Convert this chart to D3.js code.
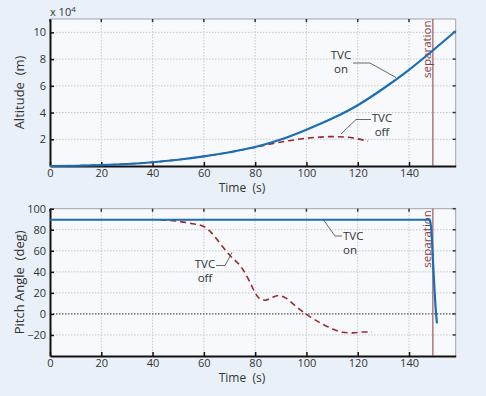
<!DOCTYPE html>
<html>
<head>
<meta charset="utf-8">
<script src="https://cdn.jsdelivr.net/npm/d3@7"></script>
<style>
  body { margin: 0; background: #eaf0f8; }
  text { font-family: "Open Sans", Lato, sans-serif; fill: #333; }
</style>
</head>
<body>
<script>
// altitude (x 10^4 m) vs time (s)
var altTimeOn = [0, 10, 20, 30, 40, 50, 60, 70, 80, 90, 100, 110, 120, 130, 140, 149.3, 158.2];
var altOn     = [0, 0.02, 0.07, 0.15, 0.28, 0.47, 0.72, 1.03, 1.42, 1.98, 2.72, 3.55, 4.55, 5.8, 7.2, 8.65, 10.1];
var altTimeOff = [0, 10, 20, 30, 40, 50, 60, 70, 80, 87, 95, 103, 110, 116, 120, 124];
var altOff     = [0, 0.02, 0.07, 0.15, 0.28, 0.47, 0.72, 1.03, 1.4, 1.68, 1.95, 2.13, 2.2, 2.15, 2.03, 1.86];

// pitch angle (deg) vs time (s)
var pitchTimeOn = [0, 147.6, 148.2, 148.8, 149.3, 149.8, 150.3, 150.9];
var pitchOn     = [89.5, 89.5, 88, 76, 52, 29, 8, -9];
var pitchTimeOff = [43, 50, 55, 60, 63, 66, 70, 75, 78, 80, 82, 84, 86, 89, 92, 96, 100, 105, 110, 114, 118, 122, 125.5];
var pitchOff     = [89.5, 88, 86, 83, 77, 68, 56, 43, 30, 20, 14, 13, 15, 17.5, 15, 7, -0.5, -8, -14, -17.5, -18, -17.2, -17.2];

var xTicks = [0, 20, 40, 60, 80, 100, 120, 140];
var altTicks = [2, 4, 6, 8, 10];
var pitchTicks = [-20, 0, 20, 40, 60, 80, 100];
var separationTime = 149.3;

var width = 486, height = 396;
var blue = "#1b6db5", red = "#9a2a2a", sepColor = "#8e3b3b";

var svg = d3.select("body").append("svg")
  .attr("width", width)
  .attr("height", height);

var x = d3.scaleLinear().domain([0, 158.2]).range([50, 455.7]);

function panel(y0, y1, yDomain, yTicks, ylabel, zeroLine) {
  var y = d3.scaleLinear().domain(yDomain).range([y1, y0]);
  var g = svg.append("g");

  g.append("rect")
    .attr("x", x.range()[0]).attr("y", y0)
    .attr("width", x.range()[1] - x.range()[0]).attr("height", y1 - y0)
    .attr("fill", "#f7f9fd");

  // grid
  g.selectAll(".gx").data(xTicks.filter(function(d) { return d > 0; })).enter().append("line")
    .attr("x1", d => x(d)).attr("x2", d => x(d))
    .attr("y1", y0).attr("y2", y1)
    .attr("stroke", "#c4c8cc").attr("stroke-width", 1).attr("stroke-dasharray", "1.5,1.5");
  g.selectAll(".gy").data(yTicks.filter(function(d) { return y(d) > y0 + 1; })).enter().append("line")
    .attr("x1", x.range()[0]).attr("x2", x.range()[1])
    .attr("y1", d => y(d)).attr("y2", d => y(d))
    .attr("stroke", d => (zeroLine && d === 0) ? "#555" : "#c4c8cc")
    .attr("stroke-width", d => (zeroLine && d === 0) ? 1.3 : 1)
    .attr("stroke-dasharray", "1.5,1.5");

  // top/right frame
  g.append("path")
    .attr("d", "M" + x.range()[0] + "," + y0 + "H" + x.range()[1] + "V" + y1)
    .attr("fill", "none").attr("stroke", "#a0a4a8").attr("stroke-width", 1);

  // inner ticks top & right
  g.selectAll(".tt").data(xTicks).enter().append("line")
    .attr("x1", d => x(d)).attr("x2", d => x(d))
    .attr("y1", y0).attr("y2", y0 + 3)
    .attr("stroke", "#333").attr("stroke-width", 1.5);
  g.selectAll(".tr").data(yTicks).enter().append("line")
    .attr("x1", x.range()[1]).attr("x2", x.range()[1] - 3)
    .attr("y1", d => y(d)).attr("y2", d => y(d))
    .attr("stroke", "#333").attr("stroke-width", 1.5);

  // axes
  var xAxis = g.append("g").attr("transform", "translate(0," + y1 + ")")
    .call(d3.axisBottom(x).tickValues(xTicks).tickSizeInner(-4).tickSizeOuter(0).tickPadding(3));
  var yAxis = g.append("g").attr("transform", "translate(" + x.range()[0] + ",0)")
    .call(d3.axisLeft(y).tickValues(yTicks).tickSizeInner(-4).tickSizeOuter(0).tickPadding(4));
  [xAxis, yAxis].forEach(function(a) {
    a.select(".domain").attr("stroke", "#111").attr("stroke-width", 2);
    a.selectAll(".tick line").attr("stroke", "#111").attr("stroke-width", 1.5);
    a.selectAll(".tick text").attr("font-size", 11).attr("fill", "#333")
      .attr("font-family", "'Open Sans', Lato, sans-serif");
  });

  g.append("text")
    .attr("x", 242).attr("y", y1 + 26)
    .attr("text-anchor", "middle").attr("font-size", 12)
    .attr("xml:space", "preserve")
    .text("Time  (s)");
  g.append("text")
    .attr("transform", "translate(24," + ((y0 + y1) / 2) + ") rotate(-90)")
    .attr("text-anchor", "middle").attr("font-size", 13)
    .attr("xml:space", "preserve")
    .text(ylabel);

  // separation marker
  g.append("line")
    .attr("x1", x(separationTime)).attr("x2", x(separationTime))
    .attr("y1", y0).attr("y2", y1)
    .attr("stroke", sepColor).attr("stroke-width", 1);
  g.append("text")
    .attr("transform", "translate(" + (x(separationTime) - 1.5) + "," + (y0 + 1.5) + ") rotate(-90)")
    .attr("text-anchor", "end").attr("font-size", 11.5)
    .style("fill", sepColor)
    .text("separation");

  return { g: g, y: y };
}

function drawLine(p, xs, ys, color, dashed) {
  var pts = xs.map(function(t, i) { return [t, ys[i]]; });
  p.g.append("path")
    .datum(pts)
    .attr("fill", "none")
    .attr("stroke", color)
    .attr("stroke-width", dashed ? 1.6 : 2.2)
    .attr("stroke-dasharray", dashed ? "6,4" : null)
    .attr("d", d3.line().x(d => x(d[0])).y(d => p.y(d[1])).curve(d3.curveMonotoneX));
}

function label(p, lines, tx, ty, anchor, leader) {
  var t = p.g.append("text").attr("font-size", 11.5).attr("text-anchor", anchor);
  lines.forEach(function(s, i) {
    t.append("tspan").attr("x", tx).attr("y", ty + i * 14).text(s);
  });
  p.g.append("path")
    .attr("d", d3.line()(leader))
    .attr("fill", "none").attr("stroke", "#555").attr("stroke-width", 0.9);
}

// top panel
var topPanel = panel(19, 166, [0, 11], altTicks, "Altitude  (m)", false);
drawLine(topPanel, altTimeOff, altOff, red, true);
drawLine(topPanel, altTimeOn, altOn, blue, false);
svg.append("text").attr("x", 50).attr("y", 16).attr("font-size", 11)
  .html('x 10<tspan dy="-4" font-size="8">4</tspan>');
label(topPanel, ["TVC", "on"], 341, 59, "middle", [[353, 63], [370, 63], [396, 77.5]]);
label(topPanel, ["TVC", "off"], 382, 122, "middle", [[371, 119.5], [356, 119.5], [341, 134]]);

// bottom panel
var botPanel = panel(208.7, 356, [-40, 100], pitchTicks, "Pitch Angle  (deg)", true);
drawLine(botPanel, pitchTimeOff, pitchOff, red, true);
drawLine(botPanel, pitchTimeOn, pitchOn, blue, false);
label(botPanel, ["TVC", "on"], 343, 240, "start", [[324, 220.5], [335, 236], [342, 236]]);
label(botPanel, ["TVC", "off"], 205, 268, "middle", [[216, 265.5], [225, 265.5], [232, 252.5]]);
</script>
</body>
</html>
